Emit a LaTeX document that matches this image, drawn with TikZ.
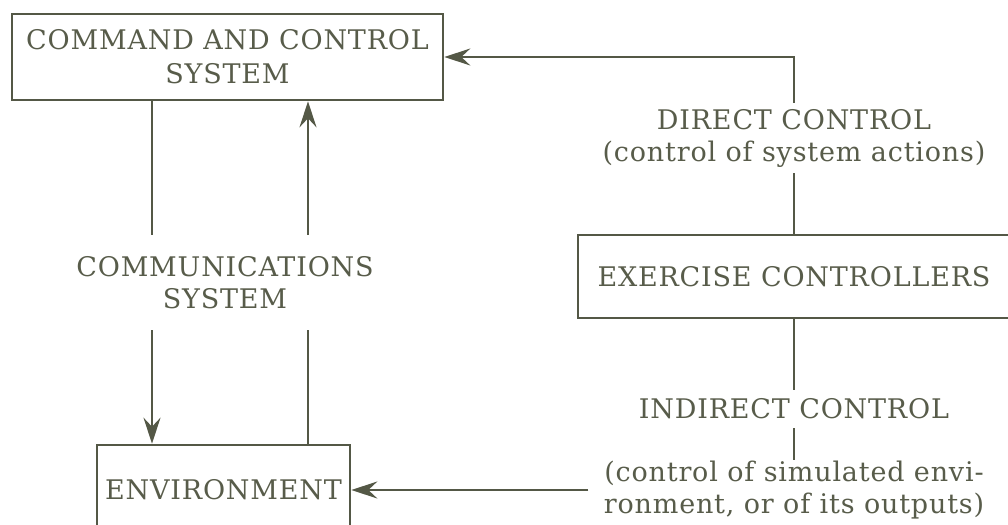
\documentclass[tikz,border=0pt]{standalone}
\usepackage{fontspec}
\setmainfont{DejaVu Serif}[LetterSpace=3]
\usetikzlibrary{arrows.meta}
\definecolor{ink}{RGB}{84,88,70}
\definecolor{txt}{RGB}{88,92,74}
\begin{document}
\begin{tikzpicture}[x=0.5pt,y=-0.5pt,
  every node/.style={font=\fontsize{13.5}{16}\selectfont, text=txt, align=center},
  blockbox/.style={draw=ink, line width=1.3pt, inner sep=0pt},
  lbl/.style={inner sep=0pt},
  conn/.style={draw=ink, line width=1.3pt},
  tip/.style={-{Stealth[length=13pt,width=8.5pt,inset=4.5pt]}}
]
\useasboundingbox (0,0) rectangle (1008,525);

% blocks
\node[blockbox, minimum width=215.5pt, minimum height=43pt,
      font=\fontsize{13.5}{17}\selectfont] (ccs) at (227.5,57)
  {COMMAND AND CONTROL\\SYSTEM};
\node[blockbox, minimum width=216pt, minimum height=41.5pt] (ec) at (794,276.5)
  {EXERCISE CONTROLLERS};
\node[blockbox, minimum width=126.5pt, minimum height=45pt] (env) at (223.5,490)
  {ENVIRONMENT};

% labels on the connectors
\node[lbl, minimum height=47.5pt] (comm) at (225,282.5) {COMMUNICATIONS\\SYSTEM};
\node[lbl, minimum height=35pt] (dc) at (794,138)
  {DIRECT CONTROL\\(control of system actions)};
\node[lbl, minimum height=19pt] (ic) at (794,409) {INDIRECT CONTROL};
\node[lbl, inner xsep=7.5pt, minimum height=30pt] (ie) at (794,490)
  {(control of simulated envi-\\ronment, or of its outputs)};

\coordinate (cL) at (152,0);
\coordinate (cR) at (308,0);

% communications links
\draw[conn] (ccs.south -| cL) -- (comm.north -| cL);
\draw[conn,tip] (comm.south -| cL) -- (env.north -| cL);
\draw[conn] (env.north -| cR) -- (comm.south -| cR);
\draw[conn,tip] (comm.north -| cR) -- (ccs.south -| cR);

% control links
\draw[conn,tip] (dc.north) |- (ccs.east);
\draw[conn] (ec.north) -- (dc.south);
\draw[conn] (ec.south) -- (ic.north);
\draw[conn] (ic.south) -- (ie.north);
\draw[conn,tip] (ie.west) -- (env.east);
\end{tikzpicture}
\end{document}
